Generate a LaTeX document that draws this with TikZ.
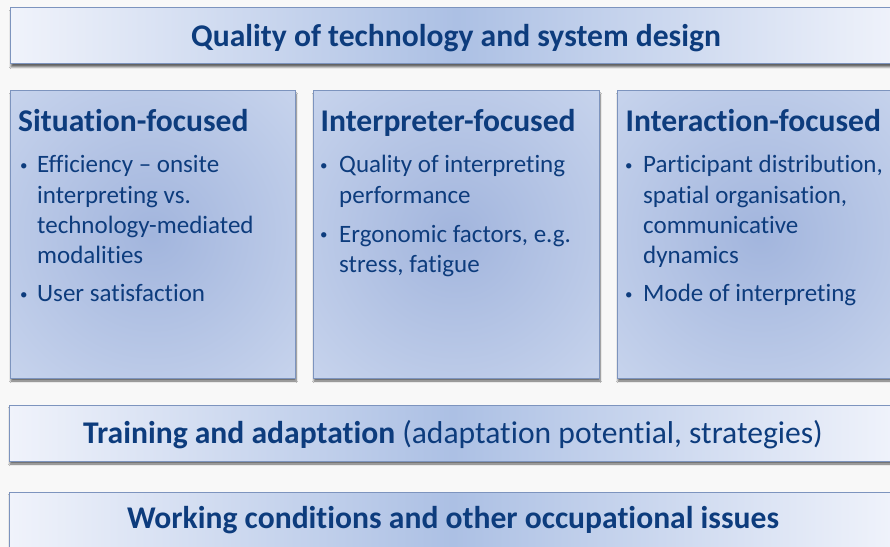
\documentclass[tikz,border=0pt]{standalone}
\usepackage{fontspec}
\setmainfont{Carlito}[Ligatures={NoCommon,NoContextual}]
\usetikzlibrary{shadows.blur}

\definecolor{ink}{RGB}{13,60,125}
\definecolor{edge}{RGB}{125,148,190}
\definecolor{paleblue}{RGB}{240,243,251}
\definecolor{midblue}{RGB}{172,192,228}
\definecolor{glowin}{RGB}{162,181,221}
\definecolor{glowmid}{RGB}{214,224,243}
\definecolor{glowout}{RGB}{242,245,251}
\definecolor{paper}{RGB}{248,248,248}

% soft radial glow used inside the three column boxes
\pgfdeclareradialshading{columnglow}{\pgfpoint{0bp}{0bp}}{%
  color(0bp)=(glowin); color(50bp)=(glowmid); color(72bp)=(glowout)}

\tikzset{
  boxshadow/.style={blur shadow={shadow xshift=1bp, shadow yshift=-3bp,
      shadow blur steps=6, shadow opacity=60}},
  band/.style={draw=edge, line width=1bp, left color=paleblue,
      right color=paleblue, middle color=midblue, boxshadow},
  column/.style={draw=edge, line width=1bp, shading=columnglow, boxshadow},
  headfont/.style={font=\fontsize{31.6bp}{38bp}\selectfont, text=ink,
      inner sep=0pt},
  colhead/.style={headfont, font=\fontsize{31.6bp}{38bp}\selectfont\bfseries,
      anchor=base west},
  itemtext/.style={font=\fontsize{25bp}{30.3bp}\selectfont, text=ink,
      inner sep=0pt, anchor=base west},
  bulletmark/.style={font=\fontsize{15bp}{18bp}\selectfont, text=ink,
      inner sep=0pt, anchor=base west, yshift=2.5bp},
}

\begin{document}
\begin{tikzpicture}[x=1bp, y=-1bp]
  \useasboundingbox (0,0) rectangle (890,547);
  \fill[paper] (0,0) rectangle (890,547);
  \clip (0,0) rectangle (890,547);

  % boxes
  \path[band]   (10,8)   rectangle (902,64);
  \path[column] (10,91)  rectangle (295,378);
  \path[column] (313,91) rectangle (599,378);
  \path[column] (617,91) rectangle (903,378);
  \path[band]   (9,405)  rectangle (897,461);
  \path[band]   (9,492)  rectangle (897,560);

  % band titles
  \node[headfont, font=\fontsize{31.6bp}{38bp}\selectfont\bfseries, anchor=base]
    (qual) at (456,47) {Quality of technology and system design};
  \node[headfont, anchor=base] (train) at (453,443)
    {\textbf{Training and adaptation} (adaptation potential, strategies)};
  \node[headfont, font=\fontsize{31.6bp}{38bp}\selectfont\bfseries, anchor=base]
    (work) at (453,528) {Working conditions and other occupational issues};

  % situation-focused column
  \node[colhead] (sithead) at (18,131.5) {Situation-focused};
  \node[bulletmark] (sitb1) at (20,173) {•};
  \node[itemtext] (sitt1) at (37,173)
    {\parbox[t]{260bp}{Efficiency – onsite\\interpreting vs.\\technology-mediated\\modalities}};
  \node[bulletmark] (sitb2) at (20,301.7) {•};
  \node[itemtext] (sitt2) at (37,301.7) {User satisfaction};

  % interpreter-focused column
  \node[colhead] (inthead) at (320.5,131.5) {Interpreter-focused};
  \node[bulletmark] (intb1) at (320,173) {•};
  \node[itemtext] (intt1) at (339,173)
    {\parbox[t]{260bp}{Quality of interpreting\\performance}};
  \node[bulletmark] (intb2) at (320,242.5) {•};
  \node[itemtext] (intt2) at (339,242.5)
    {\parbox[t]{260bp}{Ergonomic factors, e.g.\\stress, fatigue}};

  % interaction-focused column
  \node[colhead] (acthead) at (625.5,131.5) {Interaction-focused};
  \node[bulletmark] (actb1) at (625,173) {•};
  \node[itemtext] (actt1) at (643,173)
    {\parbox[t]{260bp}{Participant distribution,\\spatial organisation,\\communicative\\dynamics}};
  \node[bulletmark] (actb2) at (625,301.7) {•};
  \node[itemtext] (actt2) at (643,301.7) {Mode of interpreting};
\end{tikzpicture}
\end{document}
